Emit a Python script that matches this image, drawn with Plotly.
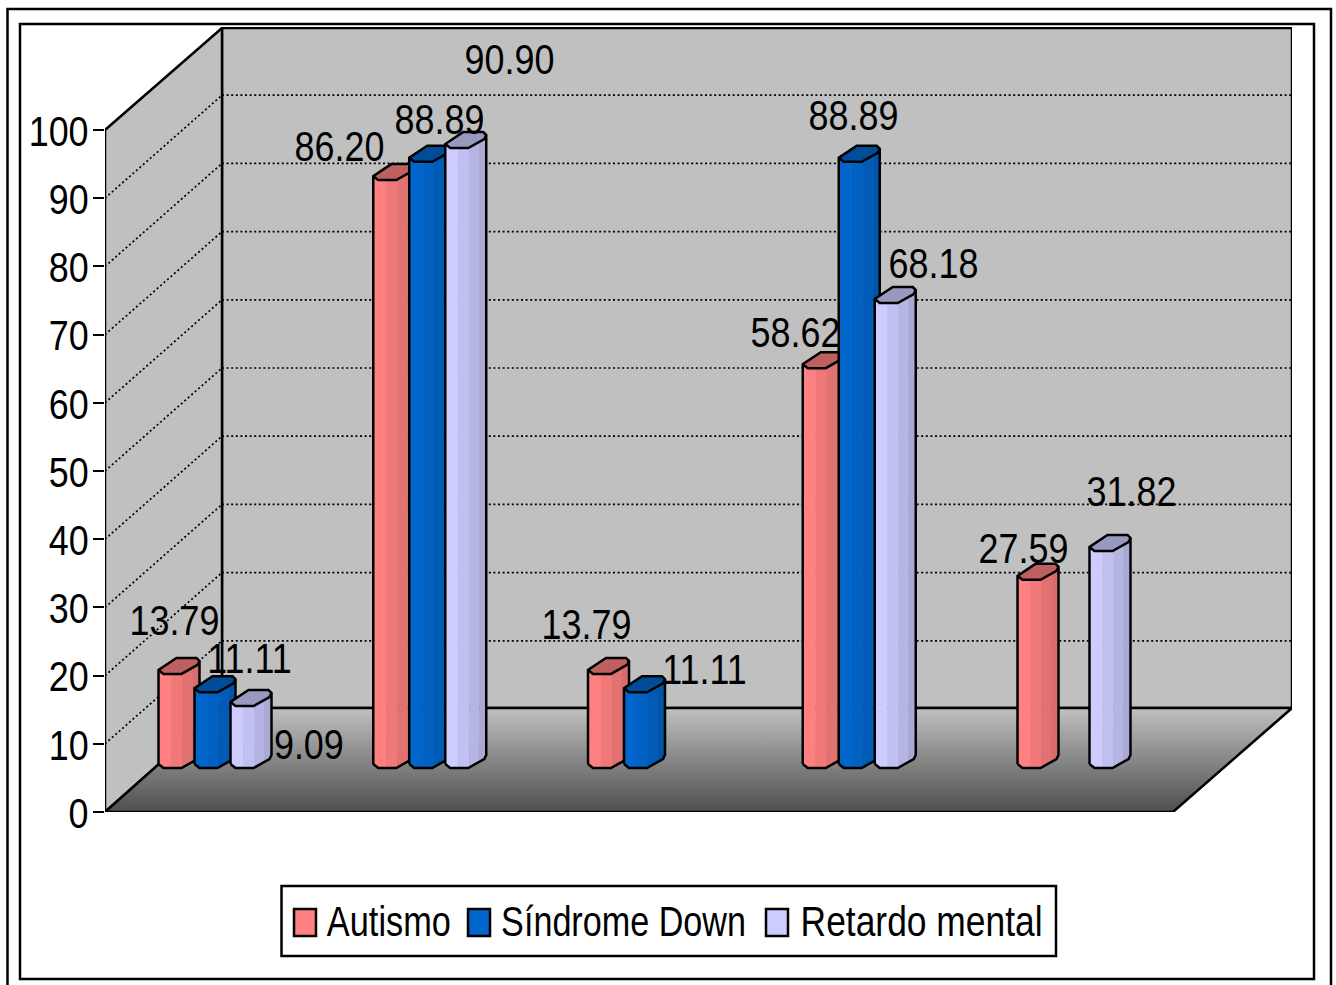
import json

import numpy as np
import plotly.graph_objects as go

# Chart data: one value per group, None where a series has no bar
groups = [0, 1, 2, 3, 4]
autismo = [13.79, 86.20, 13.79, 58.62, 27.59]
sindrome_down = [11.11, 88.89, 11.11, 88.89, None]
retardo_mental = [9.09, 90.90, None, 68.18, 31.82]
series_names = ["Autismo", "Síndrome Down", "Retardo mental"]
y_ticks = [0, 10, 20, 30, 40, 50, 60, 70, 80, 90, 100]

# Page geometry of the plot frame (pixels)
W, H = 1336, 985
LEFT, RIGHT, TOP, BOTTOM = 105, 1292, 27, 812
PX_PER_GROUP = 214.75
PX_PER_UNIT = 6.82
FONT = "Liberation Sans, Arial"


def ux(px):
    """Horizontal pixel length -> x axis units."""
    return px / PX_PER_GROUP


def uy(px):
    """Vertical pixel length -> y axis units."""
    return px / PX_PER_UNIT


def paper_x(px):
    return (px - LEFT) / (RIGHT - LEFT)


def paper_y(py):
    return (BOTTOM - py) / (BOTTOM - TOP)


x_max = ux(RIGHT - LEFT)
y_max = uy(BOTTOM - TOP)

# Perspective of the box: how far the back wall sits from the front edge
DEPTH_X = ux(117)
DEPTH_Y = uy(104)
FLOOR_W = ux(1068)
WALL_TOP = uy(784)
GRID_NUDGE = uy(-1)

# Bar placement inside the box
FIRST_BAR = ux(53.5)
BAR_BASE = uy(44)
SERIES_OFFSET = [0, ux(36), ux(72)]

# Bevelled footprint of a bar, in pixels from its left edge at the base
OUTER_X = [0, 5, 23, 39, 41]
OUTER_Y = [4, 0, 0, 9, 13]
BACK_X = [38, 18]
BACK_Y = [16, 16]
BAND_EDGES = [0, 13, 24, 34, 41]

styles = [
    dict(bands=["#FF8080", "#F07878", "#E27171", "#D86C6C"], top="#BF6060"),
    dict(bands=["#0066CC", "#0061C2", "#005BB6", "#0055AA"], top="#004C99"),
    dict(bands=["#CCCCFF", "#C1C1F1", "#B5B5E3", "#A9A9D4"], top="#9999BF"),
]

# Label centres relative to the bar's left edge and front top (pixels)
label_shifts = [
    [(15.5, 53), (-34.25, 34), (-2, 49), (-7.75, 36), (5.5, 31)],
    [(54.5, 34), (29.75, 42), (80.5, 23), (14.5, 46), None],
    [(78.5, -38), (63.75, 89), None, (58.5, 40), (41.5, 59)],
]

fig = go.Figure()
shapes = []
annotations = []

# Back wall, side wall and their dotted grid
wall = "#C0C0C0"
wall_line = dict(color="black", width=2.5)
shapes.append(dict(type="rect", xref="x", yref="y", layer="below",
                   x0=DEPTH_X, x1=x_max, y0=DEPTH_Y, y1=WALL_TOP,
                   fillcolor=wall, line=wall_line))
shapes.append(dict(type="path", xref="x", yref="y", layer="below",
                   path=f"M0,0 L0,100 L{DEPTH_X},{WALL_TOP} L{DEPTH_X},{DEPTH_Y} Z",
                   fillcolor=wall, line=wall_line))
dots = dict(color="black", width=1.7, dash="2px,2.6px")
for v in y_ticks[1:-1]:
    back = DEPTH_Y + v + GRID_NUDGE
    shapes.append(dict(type="line", xref="x", yref="y", layer="below",
                       x0=0, y0=v, x1=DEPTH_X, y1=back, line=dots))
    shapes.append(dict(type="line", xref="x", yref="y", layer="below",
                       x0=DEPTH_X, y0=back, x1=x_max, y1=back, line=dots))

# Floor, shaded from the front edge to the back wall
fig.add_trace(go.Scatter(
    x=[0, FLOOR_W, x_max, DEPTH_X, 0], y=[0, 0, DEPTH_Y, DEPTH_Y, 0],
    mode="lines", fill="toself", line=dict(color="black", width=2.5),
    fillgradient=dict(type="vertical",
                      colorscale=[[0, "#4E4E4E"], [1, "#C0C0C0"]]),
    hoverinfo="skip", showlegend=False))


def edge_y(px):
    return np.interp(px, OUTER_X, OUTER_Y)


def with_gaps(polys):
    xs, ys = [], []
    for px, py in polys:
        xs += list(px) + [None]
        ys += list(py) + [None]
    return xs, ys


all_values = [autismo, sindrome_down, retardo_mental]
for s, values in enumerate(all_values):
    style = styles[s]
    band_polys = [[] for _ in style["bands"]]
    top_polys = []
    outline_polys = []
    for g, v in zip(groups, values):
        if v is None:
            continue
        left = FIRST_BAR + g + SERIES_OFFSET[s]
        base = BAR_BASE

        for b in range(len(style["bands"])):
            a0, a1 = BAND_EDGES[b], BAND_EDGES[b + 1]
            knots = [a0] + [k for k in OUTER_X if a0 < k < a1] + [a1]
            bx = [left + ux(k) for k in knots]
            low = [base + uy(edge_y(k)) for k in knots]
            band_polys[b].append((bx + bx[::-1] + bx[:1],
                                  low + [l + v for l in low][::-1] + low[:1]))

        ox = [left + ux(k) for k in OUTER_X]
        oy = [base + uy(k) for k in OUTER_Y]
        rx = [left + ux(k) for k in BACK_X]
        ry = [base + v + uy(k) for k in BACK_Y]
        otop = [o + v for o in oy]

        top_polys.append((ox + rx + ox[:1], otop + ry + otop[:1]))
        # Silhouette of the bar, then the front rim of its top
        outline_polys.append((ox + ox[-1:] + rx + ox[:1] + ox[:1],
                              oy + otop[-1:] + ry + otop[:1] + oy[:1]))
        outline_polys.append((ox, otop))

        shift = label_shifts[s][g]
        annotations.append(dict(
            x=left, y=base + v, xref="x", yref="y", text=f"{v:.2f}",
            xshift=shift[0], yshift=shift[1], showarrow=False,
            xanchor="center", yanchor="middle",
            font=dict(family=FONT, size=42, color="black")))

    for color, polys in zip(style["bands"], band_polys):
        xs, ys = with_gaps(polys)
        fig.add_trace(go.Scatter(x=xs, y=ys, mode="lines", fill="toself",
                                 fillcolor=color, line=dict(color=color, width=0.5),
                                 hoverinfo="skip", showlegend=False))
    xs, ys = with_gaps(top_polys)
    fig.add_trace(go.Scatter(x=xs, y=ys, mode="lines", fill="toself",
                             fillcolor=style["top"], line=dict(color=style["top"], width=0.5),
                             hoverinfo="skip", showlegend=False))
    xs, ys = with_gaps(outline_polys)
    fig.add_trace(go.Scatter(x=xs, y=ys, mode="lines",
                             line=dict(color="black", width=2.5),
                             hoverinfo="skip", showlegend=False))

# Double page frame; the outer one runs off the bottom of the page
frame = dict(color="black", width=2.5)
for x0, y0, x1, y1 in [(7.5, 9, 1331, 1010), (20, 24, 1314, 979)]:
    shapes.append(dict(type="rect", xref="paper", yref="paper", layer="below",
                       x0=paper_x(x0), x1=paper_x(x1), y0=paper_y(y1), y1=paper_y(y0),
                       line=frame, fillcolor="rgba(0,0,0,0)"))

# Legend box with its swatches and names
shapes.append(dict(type="rect", xref="paper", yref="paper",
                   x0=paper_x(281.5), x1=paper_x(1056), y0=paper_y(956), y1=paper_y(886),
                   line=frame, fillcolor="white", layer="below"))
swatch_left = [294, 468, 766]
text_center = [389, 623.5, 921]
text_width = [124, 245, 242]
for name, style, sx, tx in zip(series_names, styles, swatch_left, text_center):
    shapes.append(dict(type="rect", xref="paper", yref="paper",
                       x0=paper_x(sx), x1=paper_x(sx + 22), y0=paper_y(936), y1=paper_y(909),
                       fillcolor=style["bands"][0], line=frame))
    annotations.append(dict(x=paper_x(tx), y=paper_y(921), xref="paper", yref="paper",
                            text=name, showarrow=False, xanchor="center", yanchor="middle",
                            font=dict(family=FONT, size=42, color="black")))

fig.update_layout(
    width=W, height=H, autosize=False,
    margin=dict(l=LEFT, r=W - RIGHT, t=TOP, b=H - BOTTOM, pad=0),
    paper_bgcolor="white", plot_bgcolor="rgba(0,0,0,0)",
    showlegend=False, shapes=shapes, annotations=annotations,
    xaxis=dict(visible=False, range=[0, x_max], fixedrange=True),
    yaxis=dict(range=[0, y_max], tickmode="array", tickvals=y_ticks,
               ticktext=[str(t) for t in y_ticks],
               ticks="outside", ticklen=11, tickwidth=2, tickcolor="black",
               tickfont=dict(family=FONT, size=42, color="black"),
               ticklabelstandoff=-4,
               showgrid=False, zeroline=False, showline=False, fixedrange=True),
)

# All chart text is set in a horizontally condensed cut of the typeface;
# legend names are fitted to their own widths
CONDENSE = """
var squeeze = 0.855;
var fitted = %s;
document.querySelectorAll('.annotation-text').forEach(function (t) {
  var b = t.getBBox(), c = b.x + b.width / 2;
  var k = fitted[t.textContent] ? fitted[t.textContent] / b.width : squeeze;
  var old = t.getAttribute('transform') || '';
  t.setAttribute('transform', old + ' translate(' + c + ',0) scale(' + k + ',1) translate(' + (-c) + ',0)');
});
document.querySelectorAll('.ytick text').forEach(function (t) {
  var b = t.getBBox(), r = b.x + b.width;
  var old = t.getAttribute('transform') || '';
  t.setAttribute('transform', old + ' translate(' + r + ',1) scale(' + squeeze + ',1) translate(' + (-r) + ',0)');
});
""" % json.dumps(dict(zip(series_names, text_width)))

fig.write_html("out.html", config=dict(displayModeBar=False), post_script=CONDENSE)
